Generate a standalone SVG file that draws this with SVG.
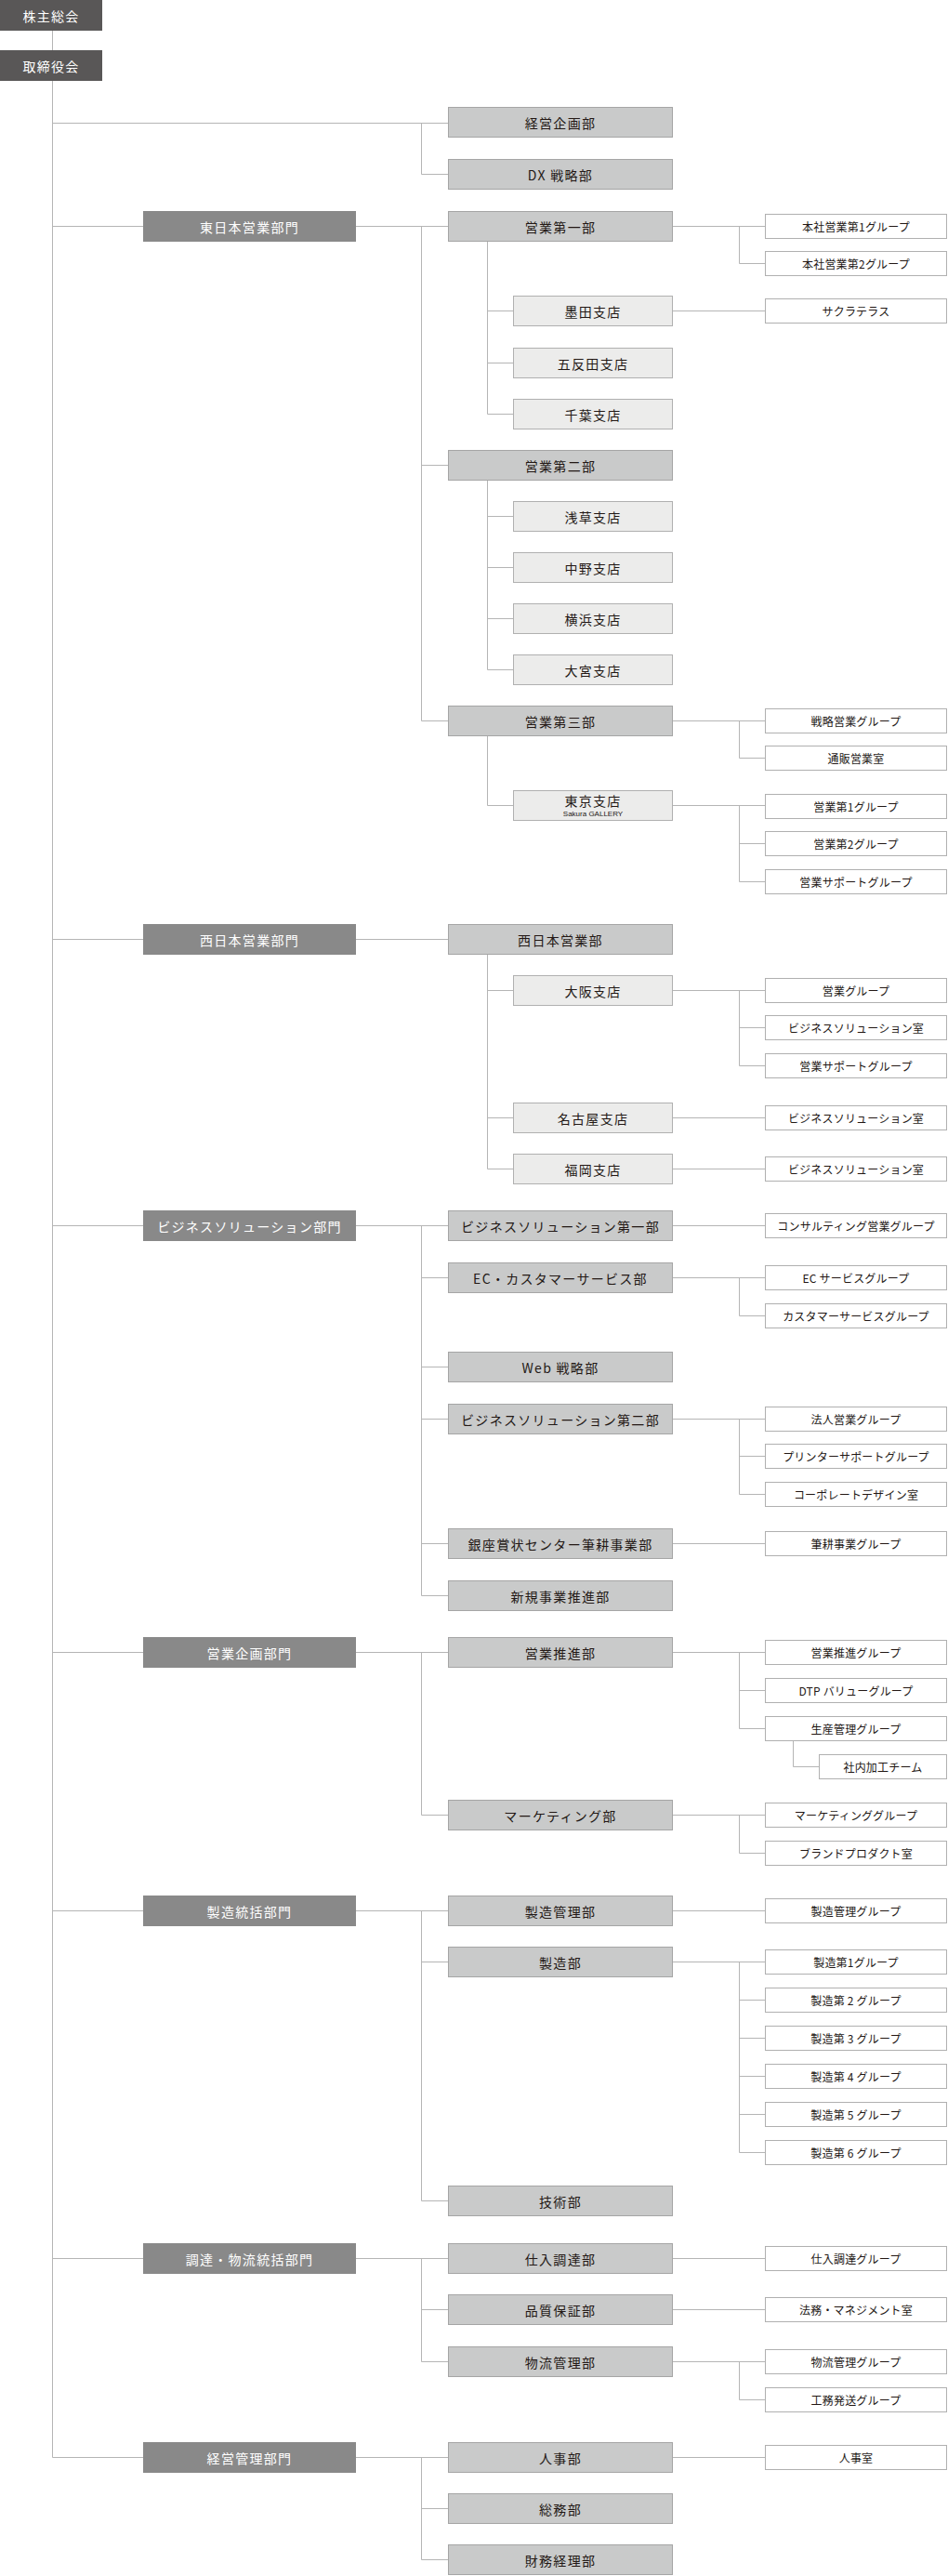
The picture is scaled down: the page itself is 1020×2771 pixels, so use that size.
<svg xmlns="http://www.w3.org/2000/svg" width="1020" height="2771" viewBox="0 0 1020 2771">
<style>
rect{shape-rendering:crispEdges}
.top{fill:#595757}
.dv{fill:#898989}
.d2{fill:#c9caca;stroke:#a5a5a5;stroke-width:1}
.br{fill:#ececeb;stroke:#b0b0b0;stroke-width:1}
.gp{fill:#ffffff;stroke:#b0b0b0;stroke-width:1}
text{font-family:"Noto Sans CJK JP","Noto Sans",sans-serif;text-anchor:middle;dominant-baseline:central}
.tw{fill:#ffffff;font-size:14px;letter-spacing:1.3px}
.tk{fill:#231815;font-size:14px;letter-spacing:1.3px}
.tg{fill:#231815;font-size:12px;letter-spacing:0.2px}
.ts{fill:#231815;font-size:8px;font-family:"Liberation Sans",Arial,sans-serif}
.cn{fill:none;stroke:#b5b5b5;stroke-width:1}
</style>
<g id="connectors" class="cn">
<path d="M56.5 33 V2643.5 H154"/>
<path d="M56 132.5 H482 M453.5 132.5 V187.5 H482"/>
<path d="M56 243.5 H154 M383 243.5 H482 M453.5 243.5 V775.5 H482 M453.5 500.5 H482"/>
<path d="M724 243.5 H823 M795.5 243.5 V283.5 H823"/>
<path d="M524.5 259 V445.5 H552 M524.5 334.5 H552 M524.5 390.5 H552 M724 334.5 H823"/>
<path d="M524.5 516 V720.5 H552 M524.5 555.5 H552 M524.5 610.5 H552 M524.5 665.5 H552"/>
<path d="M724 775.5 H823 M795.5 775.5 V815.5 H823"/>
<path d="M524.5 791 V866.5 H552 M724 866.5 H823 M795.5 866.5 V948.5 H823 M795.5 907.5 H823"/>
<path d="M56 1010.5 H154 M383 1010.5 H482"/>
<path d="M524.5 1026 V1257.5 H552 M524.5 1065.5 H552 M524.5 1202.5 H552"/>
<path d="M724 1065.5 H823 M795.5 1065.5 V1146.5 H823 M795.5 1105.5 H823 M724 1202.5 H823 M724 1257.5 H823"/>
<path d="M56 1318.5 H154 M383 1318.5 H482 M453.5 1318.5 V1716.5 H482 M453.5 1374.5 H482 M453.5 1470.5 H482 M453.5 1526.5 H482 M453.5 1660.5 H482"/>
<path d="M724 1318.5 H823 M724 1374.5 H823 M795.5 1374.5 V1415.5 H823"/>
<path d="M724 1526.5 H823 M795.5 1526.5 V1607.5 H823 M795.5 1566.5 H823 M724 1660.5 H823"/>
<path d="M56 1777.5 H154 M383 1777.5 H482 M453.5 1777.5 V1952.5 H482"/>
<path d="M724 1777.5 H823 M795.5 1777.5 V1859.5 H823 M795.5 1818.5 H823 M853.5 1873 V1900.5 H881"/>
<path d="M724 1952.5 H823 M795.5 1952.5 V1993.5 H823"/>
<path d="M56 2055.5 H154 M383 2055.5 H482 M453.5 2055.5 V2367.5 H482 M453.5 2110.5 H482"/>
<path d="M724 2055.5 H823 M724 2110.5 H823 M795.5 2110.5 V2315.5 H823 M795.5 2151.5 H823 M795.5 2192.5 H823 M795.5 2233.5 H823 M795.5 2274.5 H823"/>
<path d="M56 2429.5 H154 M383 2429.5 H482 M453.5 2429.5 V2540.5 H482 M453.5 2484.5 H482"/>
<path d="M724 2429.5 H823 M724 2484.5 H823 M724 2540.5 H823 M795.5 2540.5 V2581.5 H823"/>
<path d="M383 2643.5 H482 M453.5 2643.5 V2753.5 H482 M453.5 2698.5 H482 M724 2643.5 H823"/>
</g>

<g id="n-kabunushi"><rect class="top" x="0" y="0" width="110" height="33"/><text class="tw" x="55" y="16.5">株主総会</text></g>
<g id="n-torishimari"><rect class="top" x="0" y="54" width="110" height="33"/><text class="tw" x="55" y="70.5">取締役会</text></g>

<g id="n-keiei-kikaku"><rect class="d2" x="482.5" y="115.5" width="241" height="32"/><text class="tk" x="603" y="132">経営企画部</text></g>
<g id="n-dx"><rect class="d2" x="482.5" y="171.5" width="241" height="32"/><text class="tk" x="603" y="188">DX 戦略部</text></g>

<g id="n-higashi"><rect class="dv" x="154" y="227" width="229" height="33"/><text class="tw" x="268.5" y="243.5">東日本営業部門</text></g>
<g id="n-eigyo1"><rect class="d2" x="482.5" y="227.5" width="241" height="32"/><text class="tk" x="603" y="244">営業第一部</text></g>
<g id="n-honsha1"><rect class="gp" x="823.5" y="230.5" width="195" height="26"/><text class="tg" x="921" y="243.5">本社営業第1グループ</text></g>
<g id="n-honsha2"><rect class="gp" x="823.5" y="270.5" width="195" height="26"/><text class="tg" x="921" y="283.5">本社営業第2グループ</text></g>
<g id="n-sumida"><rect class="br" x="552.5" y="318.5" width="171" height="32"/><text class="tk" x="638" y="335">墨田支店</text></g>
<g id="n-sakura"><rect class="gp" x="823.5" y="321.5" width="195" height="26"/><text class="tg" x="921" y="334.5">サクラテラス</text></g>
<g id="n-gotanda"><rect class="br" x="552.5" y="374.5" width="171" height="32"/><text class="tk" x="638" y="391">五反田支店</text></g>
<g id="n-chiba"><rect class="br" x="552.5" y="429.5" width="171" height="32"/><text class="tk" x="638" y="446">千葉支店</text></g>

<g id="n-eigyo2"><rect class="d2" x="482.5" y="484.5" width="241" height="32"/><text class="tk" x="603" y="501">営業第二部</text></g>
<g id="n-asakusa"><rect class="br" x="552.5" y="539.5" width="171" height="32"/><text class="tk" x="638" y="556">浅草支店</text></g>
<g id="n-nakano"><rect class="br" x="552.5" y="594.5" width="171" height="32"/><text class="tk" x="638" y="611">中野支店</text></g>
<g id="n-yokohama"><rect class="br" x="552.5" y="649.5" width="171" height="32"/><text class="tk" x="638" y="666">横浜支店</text></g>
<g id="n-omiya"><rect class="br" x="552.5" y="704.5" width="171" height="32"/><text class="tk" x="638" y="721">大宮支店</text></g>

<g id="n-eigyo3"><rect class="d2" x="482.5" y="759.5" width="241" height="32"/><text class="tk" x="603" y="776">営業第三部</text></g>
<g id="n-senryaku"><rect class="gp" x="823.5" y="762.5" width="195" height="26"/><text class="tg" x="921" y="775.5">戦略営業グループ</text></g>
<g id="n-tsuhan"><rect class="gp" x="823.5" y="802.5" width="195" height="26"/><text class="tg" x="921" y="815.5">通販営業室</text></g>
<g id="n-tokyo"><rect class="br" x="552.5" y="850.5" width="171" height="32"/><text class="tk" x="638" y="861">東京支店</text><text class="ts" x="638" y="875.5">Sakura GALLERY</text></g>
<g id="n-tk1"><rect class="gp" x="823.5" y="854.5" width="195" height="26"/><text class="tg" x="921" y="867.5">営業第1グループ</text></g>
<g id="n-tk2"><rect class="gp" x="823.5" y="894.5" width="195" height="26"/><text class="tg" x="921" y="907.5">営業第2グループ</text></g>
<g id="n-tk3"><rect class="gp" x="823.5" y="935.5" width="195" height="26"/><text class="tg" x="921" y="948.5">営業サポートグループ</text></g>

<g id="n-nishi"><rect class="dv" x="154" y="994" width="229" height="33"/><text class="tw" x="268.5" y="1010.5">西日本営業部門</text></g>
<g id="n-nishi-eigyo"><rect class="d2" x="482.5" y="994.5" width="241" height="32"/><text class="tk" x="603" y="1011">西日本営業部</text></g>
<g id="n-osaka"><rect class="br" x="552.5" y="1049.5" width="171" height="32"/><text class="tk" x="638" y="1066">大阪支店</text></g>
<g id="n-os1"><rect class="gp" x="823.5" y="1052.5" width="195" height="26"/><text class="tg" x="921" y="1065.5">営業グループ</text></g>
<g id="n-os2"><rect class="gp" x="823.5" y="1092.5" width="195" height="26"/><text class="tg" x="921" y="1105.5">ビジネスソリューション室</text></g>
<g id="n-os3"><rect class="gp" x="823.5" y="1133.5" width="195" height="26"/><text class="tg" x="921" y="1146.5">営業サポートグループ</text></g>
<g id="n-nagoya"><rect class="br" x="552.5" y="1186.5" width="171" height="32"/><text class="tk" x="638" y="1203">名古屋支店</text></g>
<g id="n-ng1"><rect class="gp" x="823.5" y="1189.5" width="195" height="26"/><text class="tg" x="921" y="1202.5">ビジネスソリューション室</text></g>
<g id="n-fukuoka"><rect class="br" x="552.5" y="1241.5" width="171" height="32"/><text class="tk" x="638" y="1258">福岡支店</text></g>
<g id="n-fk1"><rect class="gp" x="823.5" y="1244.5" width="195" height="26"/><text class="tg" x="921" y="1257.5">ビジネスソリューション室</text></g>

<g id="n-bs"><rect class="dv" x="154" y="1302" width="229" height="33"/><text class="tw" x="268.5" y="1318.5">ビジネスソリューション部門</text></g>
<g id="n-bs1"><rect class="d2" x="482.5" y="1302.5" width="241" height="32"/><text class="tk" x="603" y="1319">ビジネスソリューション第一部</text></g>
<g id="n-consul"><rect class="gp" x="823.5" y="1305.5" width="195" height="26"/><text class="tg" x="921" y="1318.5">コンサルティング営業グループ</text></g>
<g id="n-ec"><rect class="d2" x="482.5" y="1358.5" width="241" height="32"/><text class="tk" x="603" y="1375">EC・カスタマーサービス部</text></g>
<g id="n-ecs"><rect class="gp" x="823.5" y="1361.5" width="195" height="26"/><text class="tg" x="921" y="1374.5">EC サービスグループ</text></g>
<g id="n-cs"><rect class="gp" x="823.5" y="1402.5" width="195" height="26"/><text class="tg" x="921" y="1415.5">カスタマーサービスグループ</text></g>
<g id="n-web"><rect class="d2" x="482.5" y="1454.5" width="241" height="32"/><text class="tk" x="603" y="1471">Web 戦略部</text></g>
<g id="n-bs2"><rect class="d2" x="482.5" y="1510.5" width="241" height="32"/><text class="tk" x="603" y="1527">ビジネスソリューション第二部</text></g>
<g id="n-hojin"><rect class="gp" x="823.5" y="1513.5" width="195" height="26"/><text class="tg" x="921" y="1526.5">法人営業グループ</text></g>
<g id="n-printer"><rect class="gp" x="823.5" y="1553.5" width="195" height="26"/><text class="tg" x="921" y="1566.5">プリンターサポートグループ</text></g>
<g id="n-corp"><rect class="gp" x="823.5" y="1594.5" width="195" height="26"/><text class="tg" x="921" y="1607.5">コーポレートデザイン室</text></g>
<g id="n-ginza"><rect class="d2" x="482.5" y="1644.5" width="241" height="32"/><text class="tk" x="603" y="1661">銀座賞状センター筆耕事業部</text></g>
<g id="n-hikko"><rect class="gp" x="823.5" y="1647.5" width="195" height="26"/><text class="tg" x="921" y="1660.5">筆耕事業グループ</text></g>
<g id="n-shinki"><rect class="d2" x="482.5" y="1700.5" width="241" height="32"/><text class="tk" x="603" y="1717">新規事業推進部</text></g>

<g id="n-eigyokikaku"><rect class="dv" x="154" y="1761" width="229" height="33"/><text class="tw" x="268.5" y="1777.5">営業企画部門</text></g>
<g id="n-suishin"><rect class="d2" x="482.5" y="1761.5" width="241" height="32"/><text class="tk" x="603" y="1778">営業推進部</text></g>
<g id="n-suishin-g"><rect class="gp" x="823.5" y="1764.5" width="195" height="26"/><text class="tg" x="921" y="1777.5">営業推進グループ</text></g>
<g id="n-dtp"><rect class="gp" x="823.5" y="1805.5" width="195" height="26"/><text class="tg" x="921" y="1818.5">DTP バリューグループ</text></g>
<g id="n-seisan"><rect class="gp" x="823.5" y="1846.5" width="195" height="26"/><text class="tg" x="921" y="1859.5">生産管理グループ</text></g>
<g id="n-shanai"><rect class="gp" x="881.5" y="1887.5" width="137" height="26"/><text class="tg" x="950" y="1900.5">社内加工チーム</text></g>
<g id="n-marketing"><rect class="d2" x="482.5" y="1936.5" width="241" height="32"/><text class="tk" x="603" y="1953">マーケティング部</text></g>
<g id="n-mkg"><rect class="gp" x="823.5" y="1939.5" width="195" height="26"/><text class="tg" x="921" y="1952.5">マーケティンググループ</text></g>
<g id="n-brand"><rect class="gp" x="823.5" y="1980.5" width="195" height="26"/><text class="tg" x="921" y="1993.5">ブランドプロダクト室</text></g>

<g id="n-seizotokatsu"><rect class="dv" x="154" y="2039" width="229" height="33"/><text class="tw" x="268.5" y="2055.5">製造統括部門</text></g>
<g id="n-seizokanri"><rect class="d2" x="482.5" y="2039.5" width="241" height="32"/><text class="tk" x="603" y="2056">製造管理部</text></g>
<g id="n-seizokanri-g"><rect class="gp" x="823.5" y="2042.5" width="195" height="26"/><text class="tg" x="921" y="2055.5">製造管理グループ</text></g>
<g id="n-seizo"><rect class="d2" x="482.5" y="2094.5" width="241" height="32"/><text class="tk" x="603" y="2111">製造部</text></g>
<g id="n-sz1"><rect class="gp" x="823.5" y="2097.5" width="195" height="26"/><text class="tg" x="921" y="2110.5">製造第1グループ</text></g>
<g id="n-sz2"><rect class="gp" x="823.5" y="2138.5" width="195" height="26"/><text class="tg" x="921" y="2151.5">製造第 2 グループ</text></g>
<g id="n-sz3"><rect class="gp" x="823.5" y="2179.5" width="195" height="26"/><text class="tg" x="921" y="2192.5">製造第 3 グループ</text></g>
<g id="n-sz4"><rect class="gp" x="823.5" y="2220.5" width="195" height="26"/><text class="tg" x="921" y="2233.5">製造第 4 グループ</text></g>
<g id="n-sz5"><rect class="gp" x="823.5" y="2261.5" width="195" height="26"/><text class="tg" x="921" y="2274.5">製造第 5 グループ</text></g>
<g id="n-sz6"><rect class="gp" x="823.5" y="2302.5" width="195" height="26"/><text class="tg" x="921" y="2315.5">製造第 6 グループ</text></g>
<g id="n-gijutsu"><rect class="d2" x="482.5" y="2351.5" width="241" height="32"/><text class="tk" x="603" y="2368">技術部</text></g>

<g id="n-chotatsu"><rect class="dv" x="154" y="2413" width="229" height="33"/><text class="tw" x="268.5" y="2429.5">調達・物流統括部門</text></g>
<g id="n-shiire"><rect class="d2" x="482.5" y="2413.5" width="241" height="32"/><text class="tk" x="603" y="2430">仕入調達部</text></g>
<g id="n-shiire-g"><rect class="gp" x="823.5" y="2416.5" width="195" height="26"/><text class="tg" x="921" y="2429.5">仕入調達グループ</text></g>
<g id="n-hinshitsu"><rect class="d2" x="482.5" y="2468.5" width="241" height="32"/><text class="tk" x="603" y="2485">品質保証部</text></g>
<g id="n-homu"><rect class="gp" x="823.5" y="2471.5" width="195" height="26"/><text class="tg" x="921" y="2484.5">法務・マネジメント室</text></g>
<g id="n-butsuryu"><rect class="d2" x="482.5" y="2524.5" width="241" height="32"/><text class="tk" x="603" y="2541">物流管理部</text></g>
<g id="n-butsuryu-g"><rect class="gp" x="823.5" y="2527.5" width="195" height="26"/><text class="tg" x="921" y="2540.5">物流管理グループ</text></g>
<g id="n-komu"><rect class="gp" x="823.5" y="2568.5" width="195" height="26"/><text class="tg" x="921" y="2581.5">工務発送グループ</text></g>

<g id="n-keieikanri"><rect class="dv" x="154" y="2627" width="229" height="33"/><text class="tw" x="268.5" y="2643.5">経営管理部門</text></g>
<g id="n-jinji"><rect class="d2" x="482.5" y="2627.5" width="241" height="32"/><text class="tk" x="603" y="2644">人事部</text></g>
<g id="n-jinjishitsu"><rect class="gp" x="823.5" y="2630.5" width="195" height="26"/><text class="tg" x="921" y="2643.5">人事室</text></g>
<g id="n-somu"><rect class="d2" x="482.5" y="2682.5" width="241" height="32"/><text class="tk" x="603" y="2699">総務部</text></g>
<g id="n-zaimu"><rect class="d2" x="482.5" y="2737.5" width="241" height="32"/><text class="tk" x="603" y="2754">財務経理部</text></g>
</svg>
